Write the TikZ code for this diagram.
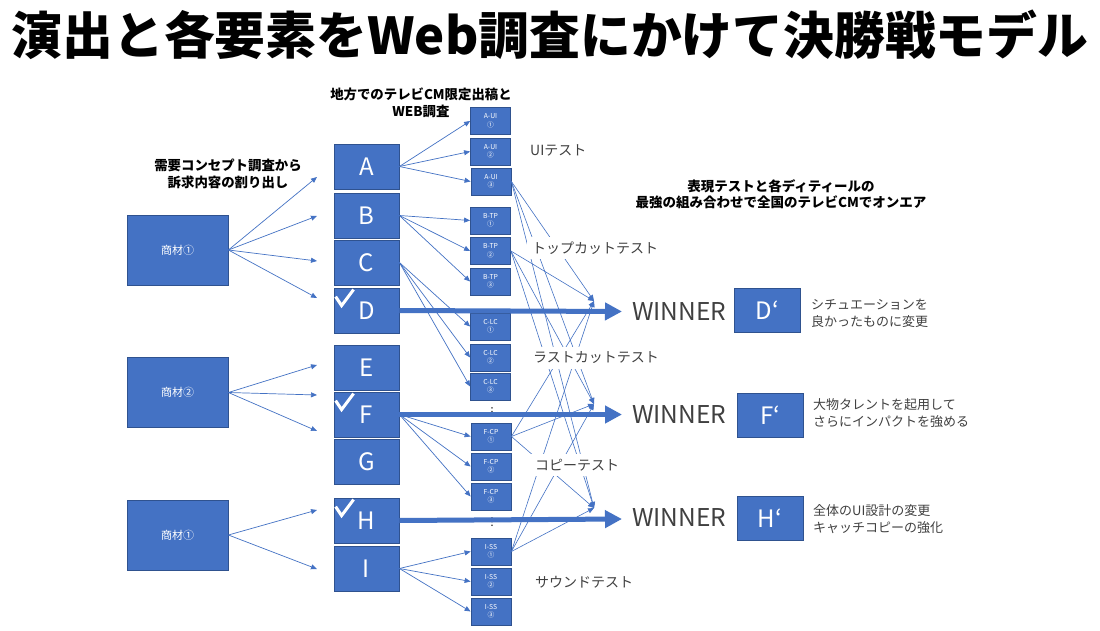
\documentclass[tikz,border=0pt]{standalone}
\usepackage{fontspec}
\setmainfont{Noto Sans CJK JP}
\newfontfamily\dvfont{DejaVu Sans}
\usetikzlibrary{arrows.meta}
\definecolor{ob}{HTML}{4472C4}
\definecolor{obd}{HTML}{2F528F}
\definecolor{tx}{HTML}{404040}
\begin{document}
\begin{tikzpicture}[x=1pt,y=-1pt,
  bigbox/.style={draw=obd,line width=0.8pt,fill=ob,minimum width=65pt,minimum height=45pt,inner sep=0pt,text=white,font=\fontsize{24}{26}\selectfont},
  smallbox/.style={draw=obd,line width=0.8pt,fill=ob,minimum width=40pt,minimum height=27pt,inner sep=0pt,text=white,align=center,font=\fontsize{6.8}{8.5}\selectfont},
  prodbox/.style={draw=obd,line width=0.8pt,fill=ob,minimum width=101pt,minimum height=70pt,inner sep=0pt,text=white,font=\fontsize{11}{12}\selectfont},
  primebox/.style={draw=obd,line width=0.8pt,fill=ob,minimum width=66pt,minimum height=44pt,inner sep=0pt,text=white,font=\fontsize{24}{26}\selectfont},
  arr/.style={draw=ob,line width=0.7pt,-{Triangle[length=6pt,width=5pt]}},
  xarr/.style={draw=ob,line width=0.6pt,-{Triangle[length=6pt,width=5pt]}},
  fatarr/.style={draw=ob,line width=5pt,-{Triangle[length=17pt,width=17pt]}},
  boldlbl/.style={align=center,font=\fontsize{13.4}{17.5}\selectfont\bfseries,text=black},
  testlbl/.style={anchor=west,fill=white,inner sep=5pt,text=tx,font=\fontsize{14}{16}\selectfont},
  winlbl/.style={anchor=west,inner sep=0pt,text=tx,font=\fontsize{24.5}{27}\selectfont},
  desclbl/.style={anchor=west,align=left,inner sep=0pt,text=tx,font=\fontsize{13}{17}\selectfont},
  checkmark/.style={draw=white,line width=3pt},
  dots/.style={inner sep=0pt,text=black,font=\dvfont\fontsize{11}{11}\selectfont}
]
\useasboundingbox (0,0) rectangle (1100,631);
\fill[white] (0,0) rectangle (1100,631);

% title
\node[font=\fontsize{50.8}{52}\selectfont\bfseries,text=black] (title) at (550,35) {演出と各要素をWeb調査にかけて決勝戦モデル};

% product boxes
\node[prodbox] (p1) at (177.5,250) {商材①};
\node[prodbox] (p2) at (177.5,392.5) {商材②};
\node[prodbox] (p3) at (177.5,535) {商材①};

% big boxes
\node[bigbox] (A) at (366.5,166.5) {A};
\node[bigbox] (B) at (366.5,215.5) {B};
\node[bigbox] (C) at (366.5,262.5) {C};
\node[bigbox] (D) at (366.5,310.5) {D};
\node[bigbox] (E) at (366.5,367.5) {E};
\node[bigbox] (F) at (366.5,414.5) {F};
\node[bigbox] (G) at (366.5,461.5) {G};
\node[bigbox] (H) at (366.5,520.5) {H};
\node[bigbox] (I) at (366.5,568.5) {I};

% checkmarks
\foreach \b in {D,F,H}{
  \draw[checkmark] ([shift={(2,9)}]\b.north west) -- ([shift={(8,18)}]\b.north west) -- ([shift={(20,2)}]\b.north west);
}

% small boxes
\node[smallbox] (aui1) at (490.5,121) {A-UI\\①};
\node[smallbox] (aui2) at (490.5,151.5) {A-UI\\②};
\node[smallbox] (aui3) at (491,181.5) {A-UI\\③};
\node[smallbox] (btp1) at (490.5,220.5) {B-TP\\①};
\node[smallbox] (btp2) at (490.5,251) {B-TP\\②};
\node[smallbox] (btp3) at (490.5,281.5) {B-TP\\③};
\node[smallbox] (clc1) at (490.5,326.5) {C-LC\\①};
\node[smallbox] (clc2) at (490.5,357.5) {C-LC\\②};
\node[smallbox] (clc3) at (490.5,386.5) {C-LC\\③};
\node[smallbox] (fcp1) at (491,436.5) {F-CP\\①};
\node[smallbox] (fcp2) at (491,466.5) {F-CP\\②};
\node[smallbox] (fcp3) at (491,496.5) {F-CP\\③};
\node[smallbox] (iss1) at (491,551.5) {I-SS\\①};
\node[smallbox] (iss2) at (491,581.5) {I-SS\\②};
\node[smallbox] (iss3) at (491,611.5) {I-SS\\③};

\node[dots] (dots1) at (492,412) {⋮};
\node[dots] (dots2) at (492,522) {⋮};

% prime boxes
\node[primebox] (Dp) at (767.5,310.5) {D‘};
\node[primebox] (Fp) at (770,415) {F‘};
\node[primebox] (Hp) at (770,518.5) {H‘};

% free ends
\coordinate (e1a) at (317,177);
\coordinate (e1b) at (317,216);
\coordinate (e1c) at (317,261);
\coordinate (e1d) at (317,298);
\coordinate (e2a) at (317,365);
\coordinate (e2b) at (317,395);
\coordinate (e2c) at (317,431);
\coordinate (e3a) at (317,510);
\coordinate (e3b) at (317,569);
\coordinate (t1) at (594,301);
\coordinate (t2) at (594,404);
\coordinate (t3) at (594,508);
\coordinate (wD) at (622,311.5);
\coordinate (wF) at (622,414.5);
\coordinate (wH) at (622,519);

% product fans
\foreach \e in {e1a,e1b,e1c,e1d} \draw[arr] (p1.east) -- (\e);
\foreach \e in {e2a,e2b,e2c} \draw[arr] (p2.east) -- (\e);
\foreach \e in {e3a,e3b} \draw[arr] (p3.east) -- (\e);

% big to small
\foreach \s in {aui1,aui2,aui3} \draw[arr] (A.east) -- (\s.west);
\foreach \s in {btp1,btp2,btp3} \draw[arr] (B.east) -- (\s.west);
\foreach \s in {clc1,clc2,clc3} \draw[arr] (C.east) -- (\s.west);
\foreach \s in {fcp1,fcp2,fcp3} \draw[arr] (F.east) -- (\s.west);
\foreach \s in {iss1,iss2,iss3} \draw[arr] (I.east) -- (\s.west);

% crossing selections
\foreach \s in {aui3,btp2,fcp1,iss1}{
  \foreach \t in {t1,t2,t3} \draw[xarr] (\s.east) -- (\t);
}

% winner arrows
\draw[fatarr] (D.east) -- (wD);
\draw[fatarr] (F.east) -- (wF);
\draw[fatarr] (H.east) -- (wH);

% labels
\node[boldlbl] (lblDemand) at (228,174) {需要コンセプト調査から\\訴求内容の割り出し};
\node[boldlbl] (lblLocal) at (421,103) {地方でのテレビCM限定出稿と\\WEB調査};
\node[boldlbl,font=\fontsize{13.5}{16.5}\selectfont\bfseries] (lblExpr) at (781,194) {表現テストと各ディティールの\\最強の組み合わせで全国のテレビCMでオンエア};

\node[testlbl] (lblUI) at (525,150) {UIテスト};
\node[testlbl] (lblTop) at (527,248) {トップカットテスト};
\node[testlbl] (lblLast) at (528,358) {ラストカットテスト};
\node[testlbl] (lblCopy) at (530,465) {コピーテスト};
\node[testlbl] (lblSound) at (530,582) {サウンドテスト};

\node[winlbl] (win1) at (632,312) {WINNER};
\node[winlbl] (win2) at (632,415) {WINNER};
\node[winlbl] (win3) at (632,518) {WINNER};

\node[desclbl] (descD) at (811,313) {シチュエーションを\\良かったものに変更};
\node[desclbl] (descF) at (813,413.5) {大物タレントを起用して\\さらにインパクトを強める};
\node[desclbl] (descH) at (813,519.5) {全体のUI設計の変更\\キャッチコピーの強化};
\end{tikzpicture}
\end{document}
